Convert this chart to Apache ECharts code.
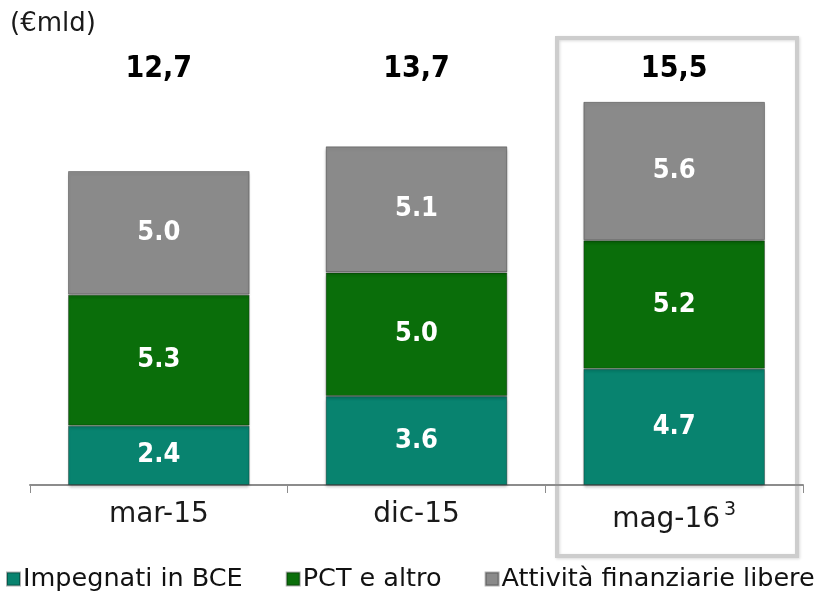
<!DOCTYPE html>
<html lang="it">
  <meta charset="utf-8" />
  <head>
    <title>Attività finanziarie</title>
    <script src="https://cdn.jsdelivr.net/npm/echarts@6/dist/echarts.min.js"></script>
  </head>
  <style>
    * {
      margin: 0;
      padding: 0;
    }
    body {
      width: 821px;
      height: 592px;
      background: #fff;
    }
    #main {
      width: 821px;
      height: 592px;
    }
  </style>
  <body>
    <div id="main"></div>
    <script>
      const categories = ["mar-15", "dic-15", "mag-16"];
      const impegnati = [2.4, 3.6, 4.7];
      const pct = [5.3, 5.0, 5.2];
      const libere = [5.0, 5.1, 5.6];
      const totals = ["12,7", "13,7", "15,5"];
      const totalLevel = 16.8;

      const font = "DejaVu Sans";
      const boldFont = "DejaVu Sans Condensed";
      const chart = echarts.init(document.getElementById("main"));

      function barSeries(name, data, color) {
        return {
          name: name,
          type: "bar",
          stack: "tot",
          data: data,
          barWidth: "70.5%",
          itemStyle: {
            color: color,
            borderColor: "rgba(0,0,0,0.3)",
            borderWidth: 1,
            shadowColor: "rgba(0,0,0,0.25)",
            shadowBlur: 3,
            shadowOffsetY: 2,
          },
          label: {
            show: true,
            position: "inside",
            color: "#fff",
            fontFamily: boldFont,
            fontWeight: "bold",
            fontSize: 27,
            formatter: (p) => p.value.toFixed(1),
          },
        };
      }

      const option = {
        animation: false,
        textStyle: { fontFamily: font },
        grid: { left: 30, right: 18, top: 40, bottom: 107 },
        legend: {
          left: 6,
          top: 566,
          width: 840,
          padding: 0,
          icon: "rect",
          itemWidth: 13,
          itemHeight: 13,
          itemGap: 43,
          textStyle: { fontSize: 25.5, color: "#111", fontFamily: font, padding: [0, 0, 0, -2] },
          data: ["Impegnati in BCE", "PCT e altro", "Attività finanziarie libere"],
        },
        xAxis: {
          type: "category",
          data: categories,
          axisLine: { lineStyle: { color: "#8c8c8c", width: 2 } },
          axisTick: { show: true, interval: 0, length: 8, lineStyle: { color: "#8c8c8c" } },
          axisLabel: {
            interval: 0,
            margin: 16,
            fontSize: 28,
            color: "#1a1a1a",
            formatter: (v) => (v === "mag-16" ? v + "{sup|3}" : v),
            rich: { sup: { fontSize: 19, verticalAlign: "top", padding: [0, 0, 18, 4] } },
          },
        },
        yAxis: { type: "value", min: 0, max: 18, show: false },
        graphic: [
          {
            type: "text",
            left: 10,
            top: 11,
            style: { text: "(€mld)", fontSize: 26, fontFamily: font, fill: "#1a1a1a" },
          },
          {
            type: "rect",
            shape: { x: 557, y: 38, width: 240, height: 518 },
            style: {
              fill: "none",
              stroke: "#cdcdcd",
              lineWidth: 4,
              shadowColor: "rgba(0,0,0,0.15)",
              shadowBlur: 3,
              shadowOffsetX: 1,
              shadowOffsetY: 1,
            },
            z: -1,
          },
        ],
        series: [
          barSeries("Impegnati in BCE", impegnati, "#08836f"),
          barSeries("PCT e altro", pct, "#0a6e0a"),
          barSeries("Attività finanziarie libere", libere, "#8a8a8a"),
          {
            type: "scatter",
            symbolSize: 0,
            silent: true,
            itemStyle: { opacity: 1 },
            data: totals.map((t, i) => [i, totalLevel]),
            label: {
              show: true,
              position: "inside",
              fontSize: 30,
              fontWeight: "bold",
              color: "#000",
              opacity: 1,
              fontFamily: boldFont,
              formatter: (p) => totals[p.dataIndex],
            },
          },
        ],
      };

      chart.setOption(option);
    </script>
  </body>
</html>
